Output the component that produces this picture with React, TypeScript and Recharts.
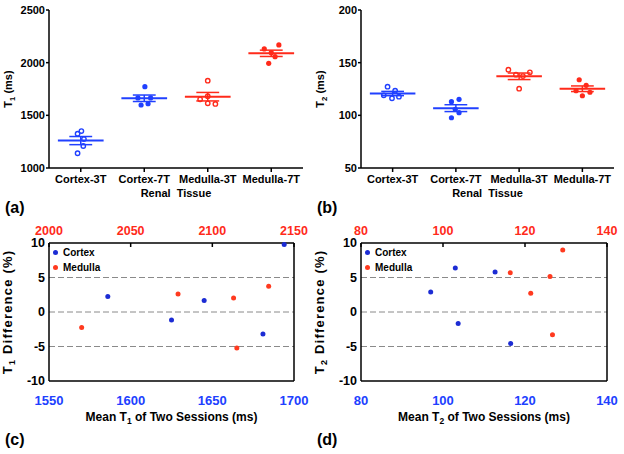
import React from 'react';
import { ScatterChart, Scatter, XAxis, YAxis, ReferenceLine, Legend } from 'recharts';

const FONT = '"Liberation Sans", Arial, Helvetica, sans-serif';
const BLUE = '#2040ff';
const RED = '#ff2a1a';
const DOT_BLUE = '#1c2cd4';
const DOT_RED = '#ff3a1f';

const groups = ['Cortex-3T', 'Cortex-7T', 'Medulla-3T', 'Medulla-7T'];
const groupColors = [BLUE, BLUE, RED, RED];
const groupOpen = [true, false, true, false];

// (a) T1 per subject (ms)
const t1Cortex3T = [1351, 1326, 1275, 1209, 1140];
const t1Cortex7T = [1772, 1598, 1610, 1665, 1665];
const t1Medulla3T = [1829, 1652, 1614, 1608, 1682];
const t1Medulla7T = [2130, 2168, 2057, 1994, 2095];
const t1Jitter = [
  [0.01, -0.05, 0.05, 0.04, -0.05],
  [0.01, -0.05, 0.06, -0.1, 0.1],
  [0, -0.12, 0, 0.12, 0],
  [-0.11, 0.12, 0.06, -0.04, 0],
];

// (b) T2 per subject (ms)
const t2Cortex3T = [127.2, 123.4, 119.0, 116.2, 117.7];
const t2Cortex7T = [113.0, 115.2, 105.7, 102.5, 97.7];
const t2Medulla3T = [143.3, 140.8, 138.6, 137.3, 125.3];
const t2Medulla7T = [133.8, 128.5, 123.4, 121.9, 118.6];
const t2Jitter = [
  [-0.08, 0.04, -0.14, -0.01, 0.1],
  [-0.07, 0.05, -0.01, 0.05, -0.07],
  [-0.17, 0.17, -0.05, 0.06, 0],
  [-0.05, 0.06, -0.1, 0.12, 0],
];

// (c) Bland-Altman T1
const t1CortexMean = [1586, 1625, 1645, 1681, 1694];
const t1CortexDiff = [2.23, -1.16, 1.65, -3.2, 9.8];
const t1MedullaMean = [2020, 2079, 2113, 2115, 2134.5];
const t1MedullaDiff = [-2.23, 2.62, 2.04, -5.2, 3.74];

// (d) Bland-Altman T2
const t2CortexMean = [97, 103, 103.7, 112.7, 116.5];
const t2CortexDiff = [2.9, 6.36, -1.65, 5.8, -4.56];
const t2MedullaMean = [116.4, 121.4, 126.1, 126.7, 129.2];
const t2MedullaDiff = [5.7, 2.7, 5.15, -3.3, 9.0];

const diffTicks = [-10, -5, 0, 5, 10];
const limits = [5, 0, -5];

const mean = (v: number[]) => v.reduce((s, x) => s + x, 0) / v.length;
const sem = (v: number[]) => {
  const m = mean(v);
  const sd = Math.sqrt(v.reduce((s, x) => s + (x - m) ** 2, 0) / (v.length - 1));
  return sd / Math.sqrt(v.length);
};

const dot = (color: string, open: boolean, r = 2.6) => (p: any) => (
  <circle
    cx={p.cx}
    cy={p.cy}
    r={open ? r - 0.4 : r}
    fill={open ? 'none' : color}
    stroke={color}
    strokeWidth={open ? 1.4 : 0}
  />
);

const axisStroke = { stroke: '#000', strokeWidth: 1.5 };

function yTitle(sub: string, rest: string, fontSize: number, spacing = 0) {
  return (props: any) => {
    const vb = props.viewBox || { x: 0, y: 0, width: 0, height: 0 };
    const x = vb.x + 12;
    const y = vb.y + vb.height / 2;
    return (
      <text
        x={x}
        y={y}
        transform={`rotate(-90, ${x}, ${y})`}
        textAnchor="middle"
        fontSize={fontSize}
        fontWeight={700}
        letterSpacing={spacing}
        fill="#000"
      >
        T<tspan fontSize={fontSize * 0.7} dy={3}>{sub}</tspan>
        <tspan dy={-3}>{rest}</tspan>
      </text>
    );
  };
}

interface GroupProps {
  left: number;
  values: number[][];
  jitter: number[][];
  domain: [number, number];
  ticks: number[];
  sub: string;
  right: number;
}

function GroupPanel({ left, values, jitter, domain, ticks, sub, right }: GroupProps) {
  const series = values.map((v, gi) => v.map((y, i) => ({ x: gi + 1 + jitter[gi][i], y })));
  return (
    <div style={{ position: 'absolute', left, top: 0 }}>
      <ScatterChart width={312} height={205} margin={{ top: 10, right, bottom: 7, left: 0 }}>
        <XAxis
          xAxisId="b"
          type="number"
          dataKey="x"
          domain={[0.5, 4.5]}
          ticks={[1, 2, 3, 4]}
          interval={0}
          tickFormatter={(v: number) => groups[v - 1]}
          tick={{ fill: '#000', fontSize: 11, fontWeight: 700 }}
          tickSize={4}
          tickMargin={3}
          tickLine={axisStroke}
          axisLine={axisStroke}
          height={30}
          label={(props: any) => {
            const vb = props.viewBox || { x: 0, y: 0, width: 0, height: 0 };
            return (
              <text x={vb.x + vb.width / 2} y={vb.y + 29} textAnchor="middle" fontSize={11} fontWeight={700} wordSpacing={3} fill="#000">
                Renal Tissue
              </text>
            );
          }}
        />
        <XAxis xAxisId="t" orientation="top" type="number" domain={[0, 1]} allowDataOverflow height={0} tick={false} tickLine={false} axisLine={axisStroke} />
        <YAxis
          yAxisId="l"
          type="number"
          dataKey="y"
          domain={domain}
          ticks={ticks}
          interval={0}
          tick={{ fill: '#000', fontSize: 11, fontWeight: 700 }}
          tickSize={3}
          tickMargin={1}
          tickLine={axisStroke}
          axisLine={axisStroke}
          width={49}
          label={yTitle(sub, '  (ms)', 11)}
        />
        <YAxis yAxisId="r" orientation="right" type="number" domain={[0, 1]} allowDataOverflow width={0} tick={false} tickLine={false} axisLine={axisStroke} />
        {values.map((v, gi) => {
          const m = mean(v);
          const e = sem(v);
          const c = gi + 1;
          const col = groupColors[gi];
          return (
            <React.Fragment key={`stats-${gi}`}>
              <ReferenceLine xAxisId="b" yAxisId="l" segment={[{ x: c - 0.36, y: m }, { x: c + 0.36, y: m }]} stroke={col} strokeWidth={2} />
              <ReferenceLine xAxisId="b" yAxisId="l" segment={[{ x: c - 0.18, y: m + e }, { x: c + 0.18, y: m + e }]} stroke={col} strokeWidth={1.5} />
              <ReferenceLine xAxisId="b" yAxisId="l" segment={[{ x: c - 0.18, y: m - e }, { x: c + 0.18, y: m - e }]} stroke={col} strokeWidth={1.5} />
              <ReferenceLine xAxisId="b" yAxisId="l" segment={[{ x: c, y: m - e }, { x: c, y: m + e }]} stroke={col} strokeWidth={1.5} />
            </React.Fragment>
          );
        })}
        {series.map((d, gi) => (
          <Scatter
            key={groups[gi]}
            name={groups[gi]}
            xAxisId="b"
            yAxisId="l"
            data={d}
            shape={dot(groupColors[gi], groupOpen[gi])}
            isAnimationActive={false}
          />
        ))}
      </ScatterChart>
    </div>
  );
}

interface DiffProps {
  left: number;
  cortexX: number[];
  cortexY: number[];
  medullaX: number[];
  medullaY: number[];
  bottomDomain: [number, number];
  bottomTicks: number[];
  topDomain: [number, number];
  topTicks: number[];
  sub: string;
  right: number;
}

function DiffPanel(p: DiffProps) {
  const cortex = p.cortexX.map((x, i) => ({ x, y: p.cortexY[i] }));
  const medulla = p.medullaX.map((x, i) => ({ x, y: p.medullaY[i] }));
  const legendItems = [
    { name: 'Cortex', color: DOT_BLUE },
    { name: 'Medulla', color: DOT_RED },
  ];
  return (
    <div style={{ position: 'absolute', left: p.left, top: 215 }}>
      <ScatterChart width={312} height={215} margin={{ top: 0, right: p.right, bottom: 0, left: 0 }}>
        <XAxis
          xAxisId="bottom"
          type="number"
          dataKey="x"
          domain={p.bottomDomain}
          ticks={p.bottomTicks}
          interval={0}
          tick={{ fill: BLUE, fontSize: 13, fontWeight: 700 }}
          tickSize={0}
          tickMargin={15}
          tickLine={false}
          axisLine={axisStroke}
          height={49}
          label={(props: any) => {
            const vb = props.viewBox || { x: 0, y: 0, width: 0, height: 0 };
            const x = vb.x + vb.width / 2;
            return (
              <text x={x} y={vb.y + 40} textAnchor="middle" fontSize={12} fontWeight={700} fill="#000">
                Mean T<tspan fontSize={8.5} dy={3}>{p.sub}</tspan>
                <tspan dy={-3}> of Two Sessions (ms)</tspan>
              </text>
            );
          }}
        />
        <XAxis
          xAxisId="top"
          orientation="top"
          type="number"
          dataKey="x"
          domain={p.topDomain}
          ticks={p.topTicks}
          interval={0}
          tick={{ fill: RED, fontSize: 12.5, fontWeight: 700 }}
          tickSize={-4}
          tickMargin={12}
          tickLine={axisStroke}
          axisLine={axisStroke}
          height={28}
        />
        <YAxis
          yAxisId="l"
          type="number"
          dataKey="y"
          domain={[-10, 10]}
          ticks={diffTicks}
          interval={0}
          tick={{ fill: '#000', fontSize: 12.5, fontWeight: 700 }}
          tickSize={0}
          tickMargin={4}
          tickLine={false}
          axisLine={axisStroke}
          width={49}
          label={yTitle(p.sub, ' Difference (%)', 13, 1.2)}
        />
        <YAxis yAxisId="r" orientation="right" type="number" domain={[0, 1]} allowDataOverflow width={1} tick={false} tickLine={false} axisLine={axisStroke} />
        {limits.map((y) => (
          <ReferenceLine key={y} xAxisId="bottom" yAxisId="l" y={y} stroke="#8a8a8a" strokeWidth={1} strokeDasharray="6 3" />
        ))}
        <Scatter name="Cortex" xAxisId="bottom" yAxisId="l" data={cortex} shape={dot(DOT_BLUE, false, 2.5)} isAnimationActive={false} />
        <Scatter name="Medulla" xAxisId="top" yAxisId="l" data={medulla} shape={dot(DOT_RED, false, 2.5)} isAnimationActive={false} />
        <Legend
          layout="vertical"
          align="center"
          verticalAlign="middle"
          wrapperStyle={{ position: 'absolute', left: 53, top: 30, width: 'auto', height: 'auto' }}
          content={() => (
            <div style={{ fontSize: 10, fontWeight: 700, color: '#000', lineHeight: '15.3px' }}>
              {legendItems.map((it) => (
                <div key={it.name} style={{ display: 'flex', alignItems: 'center', height: 15.3 }}>
                  <span style={{ display: 'inline-block', width: 5, height: 5, borderRadius: '50%', background: it.color, marginRight: 5 }} />
                  {it.name}
                </div>
              ))}
            </div>
          )}
        />
      </ScatterChart>
    </div>
  );
}

const panelTag = (text: string, left: number, top: number) => (
  <div style={{ position: 'absolute', left, top, fontSize: 16, fontWeight: 700, lineHeight: '18px' }}>{text}</div>
);

export default function App() {
  return (
    <div style={{ position: 'absolute', left: 0, top: 0, width: 624, height: 454, background: '#fff', fontFamily: FONT, overflow: 'hidden' }}>
      <GroupPanel
        left={0}
        values={[t1Cortex3T, t1Cortex7T, t1Medulla3T, t1Medulla7T]}
        jitter={t1Jitter}
        domain={[1000, 2500]}
        ticks={[1000, 1500, 2000, 2500]}
        sub="1"
        right={9}
      />
      <GroupPanel
        left={312}
        values={[t2Cortex3T, t2Cortex7T, t2Medulla3T, t2Medulla7T]}
        jitter={t2Jitter}
        domain={[50, 200]}
        ticks={[50, 100, 150, 200]}
        sub="2"
        right={10}
      />
      <DiffPanel
        left={0}
        cortexX={t1CortexMean}
        cortexY={t1CortexDiff}
        medullaX={t1MedullaMean}
        medullaY={t1MedullaDiff}
        bottomDomain={[1550, 1700]}
        bottomTicks={[1550, 1600, 1650, 1700]}
        topDomain={[2000, 2150]}
        topTicks={[2000, 2050, 2100, 2150]}
        sub="1"
        right={17}
      />
      <DiffPanel
        left={312}
        cortexX={t2CortexMean}
        cortexY={t2CortexDiff}
        medullaX={t2MedullaMean}
        medullaY={t2MedullaDiff}
        bottomDomain={[80, 140]}
        bottomTicks={[80, 100, 120, 140]}
        topDomain={[80, 140]}
        topTicks={[80, 100, 120, 140]}
        sub="2"
        right={16}
      />
      {panelTag('(a)', 5, 199)}
      {panelTag('(b)', 317, 199)}
      {panelTag('(c)', 5, 431)}
      {panelTag('(d)', 317, 431)}
    </div>
  );
}
